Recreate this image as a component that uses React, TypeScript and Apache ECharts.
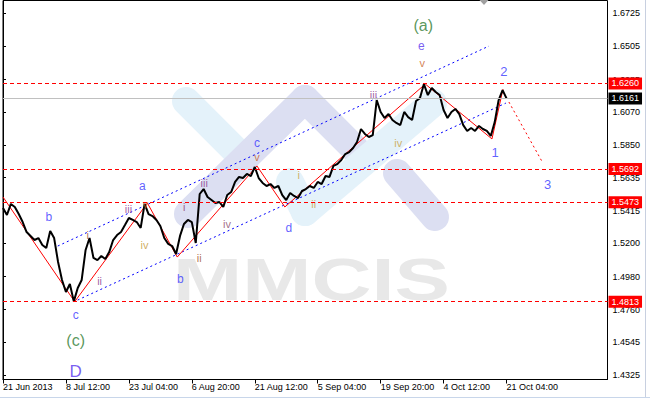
import React, { useEffect, useRef } from "react";
import * as echarts from "echarts";

// ---- data ----
const BAR_STEP = 4;
const X_MAX = 614.68;
const Y_MIN = 1.42972;
const Y_MAX = 1.68099;

const xTickBars = [0, 64, 128, 192, 256, 320, 384, 448, 512];
const xTickLabels = [
  "21 Jun 2013",
  "8 Jul 12:00",
  "23 Jul 04:00",
  "6 Aug 20:00",
  "21 Aug 12:00",
  "5 Sep 04:00",
  "19 Sep 20:00",
  "4 Oct 12:00",
  "21 Oct 04:00",
];
const yTickValues = [
  1.6725, 1.6505, 1.6285, 1.607, 1.585, 1.5635, 1.5415, 1.52, 1.498, 1.476,
  1.4545, 1.4325,
];

// price sampled every BAR_STEP bars (H4)
const prices = [
  1.5434, 1.5388, 1.5461, 1.5441, 1.5394, 1.5341, 1.5275, 1.5249, 1.5222, 1.5235,
  1.5189, 1.5169, 1.5282, 1.5235, 1.5076, 1.4957, 1.4877, 1.493, 1.4815, 1.4904,
  1.4957, 1.5156, 1.5235, 1.5103, 1.5089, 1.5116, 1.5096, 1.5142, 1.5222, 1.5255,
  1.5275, 1.5321, 1.5368, 1.5355, 1.5341, 1.5302, 1.5462, 1.5394, 1.5381, 1.5355,
  1.5315, 1.5235, 1.5196, 1.5182, 1.5129, 1.5249, 1.5328, 1.5355, 1.5341, 1.5202,
  1.5527, 1.556, 1.5507, 1.5487, 1.5467, 1.5474, 1.5441, 1.552, 1.554, 1.5607,
  1.564, 1.5633, 1.566, 1.5646, 1.5706, 1.5633, 1.56, 1.558, 1.5593, 1.5567,
  1.558, 1.552, 1.5487, 1.5534, 1.5514, 1.55, 1.5547, 1.556, 1.558, 1.5567,
  1.5607, 1.5593, 1.5646, 1.564, 1.5713, 1.5726, 1.5752, 1.5792, 1.5805, 1.5832,
  1.5872, 1.5958, 1.5925, 1.5905, 1.5918, 1.615, 1.6071, 1.6031, 1.6057, 1.6018,
  1.5998, 1.5984, 1.6071, 1.6037, 1.6018, 1.6144, 1.6163, 1.6256, 1.6183, 1.623,
  1.6203, 1.6183, 1.6084, 1.6031, 1.6071, 1.6091, 1.6057, 1.5984, 1.5945, 1.5965,
  1.5945, 1.5978, 1.5958, 1.5945, 1.5912, 1.6004, 1.615, 1.6216, 1.6161,
];

const levelValues = [1.626, 1.5692, 1.5473, 1.4813];
const currentPrice = 1.6161;

const waveBars = [0, 72.9, 146.8, 177.2, 258.2, 286.6, 429.4, 497.2, 508.4];
const wavePrices = [1.5507, 1.4813, 1.5467, 1.5109, 1.5713, 1.5441, 1.6256, 1.5892, 1.6222];
const projBars = [514.4, 548.9];
const projPrices = [1.6137, 1.5733];
const upperBars = [55.7, 494.2];
const upperPrices = [1.5182, 1.6508];
const lowerBars = [75.9, 511.4];
const lowerPrices = [1.4824, 1.613];

const labelTexts = [
  "(a)", "e", "v", "2", "1", "3", "a", "iii", "c", "v", "i", "iii", "iv", "b",
  "iii", "v", "i", "iv", "ii", "i", "ii", "b", "c", "(c)", "D", "iv", "d", "ii",
];
const labelBars = [
  427.3, 425.3, 426.3, 509.4, 500.3, 553.9, 141.8, 204.6, 258.2, 258.2, 300.8,
  376.7, 402.0, 46.6, 127.6, 144.8, 86.1, 143.8, 98.2, 184.3, 199.5, 180.3, 73.9,
  73.9, 73.9, 227.8, 290.6, 315.9,
];
const labelPrices = [
  1.6647, 1.6508, 1.6396, 1.6342, 1.5799, 1.5593, 1.558, 1.56, 1.5865, 1.5772,
  1.5653, 1.6183, 1.5865, 1.5375, 1.5427, 1.5461, 1.5255, 1.5189, 1.495, 1.5441,
  1.5103, 1.4964, 1.4725, 1.4559, 1.4347, 1.5328, 1.5302, 1.5461,
];
const labelColors = [
  "#2f7d32", "#5533ee", "#c8642a", "#3737ff", "#3737ff", "#3737ff", "#3737ff",
  "#8b3a8b", "#3737ff", "#c8642a", "#c8a040", "#8b3a8b", "#c8a040", "#3737ff",
  "#8b3a8b", "#c8642a", "#a0522d", "#c49a3a", "#8b3a8b", "#8b3a6b", "#a0522d",
  "#3737ff", "#3737ff", "#2f7d32", "#5533ee", "#8b4a6b", "#3737ff", "#c8a040",
];
const labelSizes = [
  16, 12, 11, 13, 13, 13, 12, 11, 12, 11, 11, 11, 11, 12, 11, 11, 11, 11, 11, 11,
  11, 12, 12, 16, 17, 11, 12, 11,
];

const FONT = "'Liberation Sans', Arial, sans-serif";

const pair = (bars: number[], vals: number[]) => bars.map((b, i) => [b, vals[i]]);

export default function App() {
  const ref = useRef<HTMLDivElement>(null);

  useEffect(() => {
    if (!ref.current) return;
    const chart = echarts.init(ref.current, undefined, { renderer: "svg" });

    const band = (x1: number, y1: number, x2: number, y2: number, color: string) => ({
      type: "line",
      silent: true,
      z: -10,
      shape: { x1, y1, x2, y2 },
      style: { stroke: color, lineWidth: 28, lineCap: "round" },
    });
    const BLUE_BAND = "#e4f2fa";
    const LAV_BAND = "#dcdff2";

    const levelLabel = (bg: string) => ({
      show: true,
      position: "end",
      distance: 1,
      formatter: "{b}",
      color: "#ffffff",
      backgroundColor: bg,
      padding: [1, 3, 1, 3],
      fontSize: 9,
      lineHeight: 10,
      fontFamily: FONT,
    });

    chart.setOption({
      animation: false,
      backgroundColor: "#ffffff",
      grid: {
        left: 0.5,
        top: 0.5,
        right: 42.5,
        bottom: 20.5,
        show: true,
        borderColor: "#000000",
        borderWidth: 1,
        backgroundColor: "transparent",
      },
      xAxis: {
        type: "value",
        min: 0,
        max: X_MAX,
        axisLine: { show: true, lineStyle: { color: "#000", width: 1 } },
        axisTick: {
          show: true,
          length: 4,
          inside: false,
          customValues: xTickBars,
          lineStyle: { color: "#000" },
        },
        axisLabel: {
          show: true,
          customValues: xTickBars,
          formatter: (v: number) => xTickLabels[xTickBars.indexOf(Math.round(v))] ?? "",
          align: "left",
          margin: 3,
          fontSize: 9,
          fontFamily: FONT,
          color: "#000",
        },
        splitLine: { show: false },
      },
      yAxis: {
        type: "value",
        position: "right",
        min: Y_MIN,
        max: Y_MAX,
        axisLine: { show: true, lineStyle: { color: "#000", width: 1 } },
        axisTick: {
          show: true,
          length: 3,
          inside: false,
          customValues: yTickValues,
          lineStyle: { color: "#000" },
        },
        axisLabel: {
          show: true,
          customValues: yTickValues,
          formatter: (v: number) => v.toFixed(4),
          margin: 5,
          fontSize: 9,
          fontFamily: FONT,
          color: "#000",
        },
        splitLine: { show: false },
      },
      graphic: {
        elements: [
          band(186, 101, 245, 160, BLUE_BAND),
          band(188, 214, 305, 99, LAV_BAND),
          band(305, 99, 362, 156, LAV_BAND),
          band(290, 182, 305, 212, BLUE_BAND),
          band(305, 212, 433, 103, BLUE_BAND),
          band(397, 173, 435, 217, LAV_BAND),
          {
            type: "text",
            silent: true,
            z: -5,
            x: 173,
            y: 279,
            scaleX: 1.385,
            style: {
              text: "MMCIS",
              x: 0,
              y: 0,
              fill: "#e8e8e8",
              font: "bold 60px 'Liberation Sans', Arial, sans-serif",
              align: "left",
              verticalAlign: "middle",
            },
          },
          {
            type: "polygon",
            silent: true,
            z: 100,
            shape: { points: [[479.5, 0], [488.5, 0], [484, 5]] },
            style: { fill: "#a0a0a0" },
          },
          {
            type: "line",
            silent: true,
            z: 100,
            shape: { x1: 645.5, y1: 0, x2: 645.5, y2: 397 },
            style: { stroke: "#c8d0e0", lineWidth: 1 },
          },
          {
            type: "line",
            silent: true,
            z: 100,
            shape: { x1: 0, y1: 397.5, x2: 650, y2: 397.5 },
            style: { stroke: "#c8d6ea", lineWidth: 1 },
          },
        ],
      },
      series: [
        {
          type: "line",
          data: [],
          z: 1,
          silent: true,
          color: "#ff0000",
          markLine: {
            silent: true,
            precision: 4,
            symbol: ["none", "none"],
            lineStyle: { color: "#ff0000", type: [4, 3], width: 1, opacity: 1 },
            label: levelLabel("#ff0000"),
            emphasis: { disabled: true },
            data: levelValues.map((v) => ({
              yAxis: v,
              name: v.toFixed(4),
              lineStyle: { color: "#ff0000", type: [4, 3], width: 1 },
            })),
          },
        },
        {
          type: "line",
          data: [],
          z: 1,
          silent: true,
          color: "#c0c0c0",
          markLine: {
            silent: true,
            precision: 4,
            symbol: ["none", "none"],
            lineStyle: { color: "#c0c0c0", type: "solid", width: 1 },
            label: levelLabel("#000000"),
            emphasis: { disabled: true },
            data: [{ yAxis: currentPrice, name: currentPrice.toFixed(4) }],
          },
        },
        {
          type: "line",
          data: pair(upperBars, upperPrices),
          symbol: "none",
          silent: true,
          z: 2,
          lineStyle: { color: "#0000ff", width: 1, type: [2, 3] },
        },
        {
          type: "line",
          data: pair(lowerBars, lowerPrices),
          symbol: "none",
          silent: true,
          z: 2,
          lineStyle: { color: "#0000ff", width: 1, type: [2, 3] },
        },
        {
          type: "line",
          data: pair(waveBars, wavePrices),
          symbol: "none",
          silent: true,
          z: 2,
          lineStyle: { color: "#ff0000", width: 1, type: "solid" },
        },
        {
          type: "line",
          data: pair(projBars, projPrices),
          symbol: "none",
          silent: true,
          z: 2,
          lineStyle: { color: "#ff0000", width: 1, type: [2, 3] },
        },
        {
          type: "line",
          data: prices.map((p, i) => [i * BAR_STEP, p]),
          symbol: "none",
          silent: true,
          z: 3,
          color: "#000000",
          lineStyle: { color: "#000000", width: 2 },
        },
        {
          type: "scatter",
          silent: true,
          z: 4,
          symbolSize: 1,
          itemStyle: { color: "rgba(0,0,0,0)" },
          data: labelBars.map((b, i) => ({
            value: [b, labelPrices[i]],
            label: {
              show: true,
              position: "inside",
              formatter: labelTexts[i],
              color: labelColors[i],
              fontSize: labelSizes[i],
              fontFamily: FONT,
            },
          })),
        },
      ],
    });

    return () => chart.dispose();
  }, []);

  return (
    <div
      ref={ref}
      style={{
        position: "fixed",
        left: 0,
        top: 0,
        width: 650,
        height: 400,
        background: "#fff",
      }}
    />
  );
}
